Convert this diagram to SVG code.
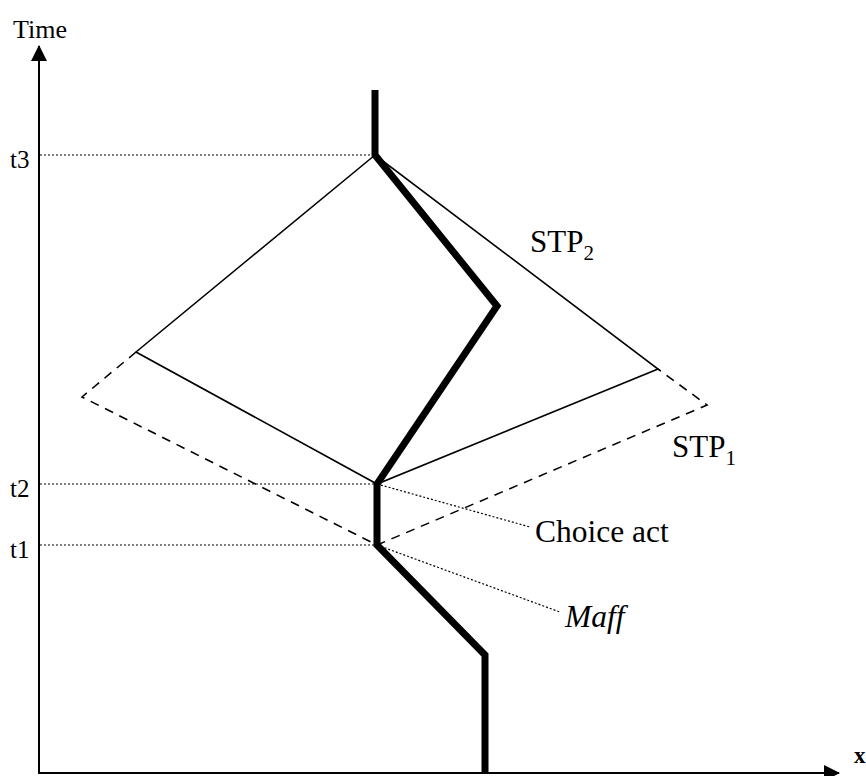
<svg xmlns="http://www.w3.org/2000/svg" width="866" height="776" viewBox="0 0 866 776">
<style>
text{font-family:"Liberation Serif","Times New Roman",serif;fill:#000}
.ax{stroke:#000;stroke-width:2;fill:none}
.thin{stroke:#000;stroke-width:1.6;fill:none}
.dash{stroke:#000;stroke-width:1.6;fill:none;stroke-dasharray:9,7}
.dot{stroke:#000;stroke-width:1.2;fill:none;stroke-dasharray:2,2}
.thick{stroke:#000;stroke-width:7;fill:none;stroke-linejoin:miter}
</style>
<defs>
<marker id="ah" viewBox="0 0 16 16" refX="15" refY="8" markerWidth="16" markerHeight="16" markerUnits="userSpaceOnUse" orient="auto">
<path d="M0,0 L16,8 L0,16 Z" fill="#000"/>
</marker>
</defs>
<rect width="866" height="776" fill="#fff"/>
<g id="axes">
<line class="ax" x1="39" y1="774" x2="39" y2="46" marker-end="url(#ah)"/>
<line class="ax" x1="38" y1="773" x2="839" y2="773" marker-end="url(#ah)"/>
<text x="13" y="38" font-size="26">Time</text>
<text x="854" y="763" font-size="23" font-weight="bold">x</text>
</g>
<g id="ticks">
<line class="dot" x1="40" y1="155" x2="375" y2="155"/>
<line class="dot" x1="40" y1="484" x2="377" y2="484"/>
<line class="dot" x1="40" y1="545" x2="377" y2="545"/>
<text x="10" y="168" font-size="25">t3</text>
<text x="10" y="497" font-size="25">t2</text>
<text x="10" y="558" font-size="25">t1</text>
</g>
<g id="stp2">
<polygon class="thin" points="375,155 136,352 377,484 658,369"/>
<text x="530" y="252" font-size="31">STP<tspan font-size="21" dy="8">2</tspan></text>
</g>
<g id="stp1">
<polyline class="dash" points="136,352 82,397 377,545 707,405 658,369"/>
<text x="672" y="457" font-size="31">STP<tspan font-size="21" dy="8">1</tspan></text>
</g>
<g id="path">
<polyline class="thick" points="375,90 375,155 497,306 377,484 377,545 485,655 485,773"/>
</g>
<g id="connectors">
<line class="dot" x1="377" y1="484" x2="530" y2="527"/>
<line class="dot" x1="377" y1="545" x2="560" y2="612"/>
</g>
<g id="choice">
<text x="535" y="542" font-size="31.5">Choice act</text>
</g>
<g id="maff">
<text x="565" y="627" font-size="31.5" font-style="italic">Maff</text>
</g>
</svg>
